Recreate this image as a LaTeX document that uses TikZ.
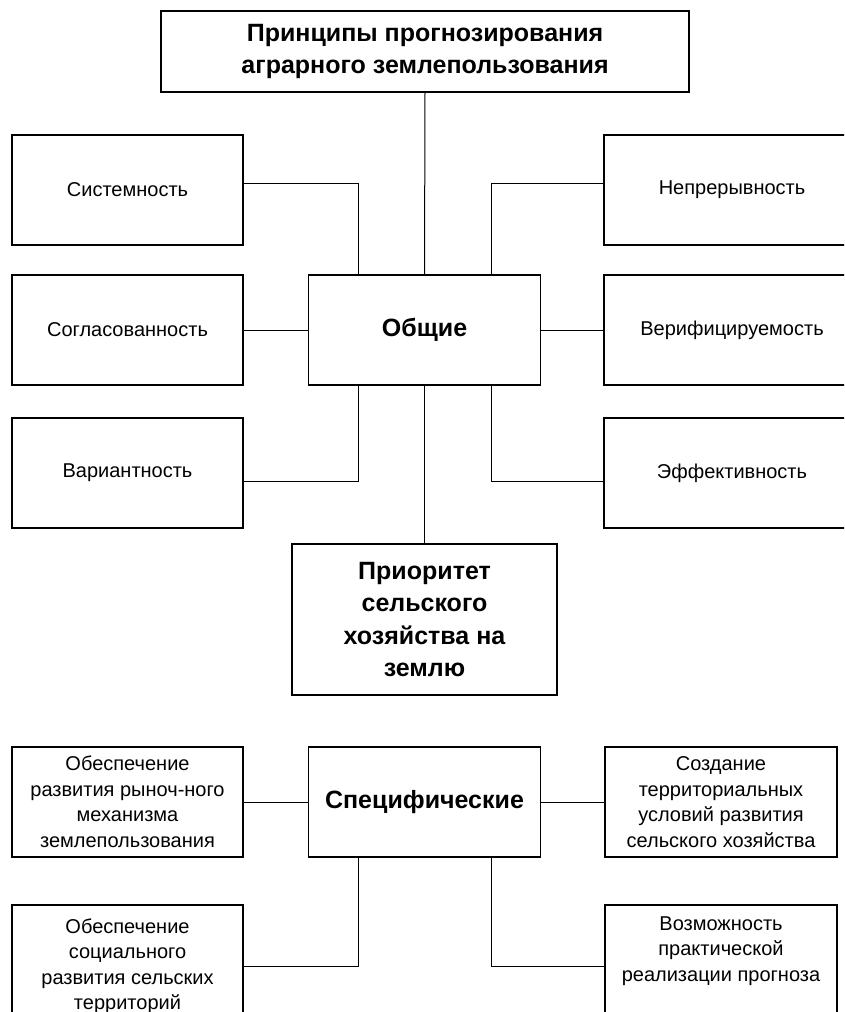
\documentclass[tikz,border=0pt]{standalone}
\usepackage{fontspec}
\setmainfont{Liberation Sans}
\tikzset{
  box/.style={draw, line width=1.2pt, inner sep=0pt, outer sep=0pt, align=center, font=\fontsize{20}{25.5}\selectfont},
  bbox/.style={box, font=\bfseries\fontsize{25}{32.5}\selectfont},
  conn/.style={line width=1pt},
}
\begin{document}
\begin{tikzpicture}[x=1pt,y=-1pt]
\useasboundingbox (0,0) rectangle (844,1012);
\clip (0,0) rectangle (844,1012);
\fill[white] (0,0) rectangle (844,1012);
% title
\node[bbox, minimum width=528pt, minimum height=81pt] (title) at (425,51.5) {Принципы прогнозирования\\аграрного землепользования};
% left column
\node[box, minimum width=231pt, minimum height=110pt] (sys) at (127.5,190) {Системность};
\node[box, minimum width=231pt, minimum height=110pt] (sogl) at (127.5,330) {Согласованность};
\node[box, minimum width=231pt, minimum height=110pt] (var) at (127.5,473) {Вариантность};
% right column
\node[box, minimum width=256pt, minimum height=110pt] (nepr) at (732,190) {Непрерывность};
\node[box, minimum width=256pt, minimum height=110pt] (ver) at (732,330) {Верифицируемость};
\node[box, minimum width=256pt, minimum height=110pt] (eff) at (732,473) {Эффективность};
% centre
\node[bbox, minimum width=232pt, minimum height=110pt] (obsh) at (424.5,330) {Общие};
\node[bbox, minimum width=265pt, minimum height=151pt] (prior) at (424.5,619.5) {Приоритет\\сельского\\хозяйства на\\землю};
\node[bbox, minimum width=232pt, minimum height=110pt] (spec) at (424.5,802) {Специфические};
% bottom boxes
\node[box, minimum width=231pt, minimum height=110pt] (b1) at (127.5,802) {Обеспечение\\развития рыноч-ного\\механизма\\землепользования};
\node[box, minimum width=232pt, minimum height=110pt] (b3) at (721,802) {Создание\\территориальных\\условий развития\\сельского хозяйства};
\node[box, minimum width=231pt, minimum height=122pt] (b2) at (127.5,966) {Обеспечение\\социального\\развития сельских\\территорий};
\node[box, minimum width=232pt, minimum height=122pt] (b4) at (721,966) {\parbox[c][99pt][t]{228pt}{\centering Возможность\\практической\\реализации прогноза}};
% connectors
\draw[conn] (title.south) -- (obsh.north);
\draw[conn] ([yshift=7pt]sys.east) -| ([xshift=-66.5pt]obsh.north);
\draw[conn] ([yshift=7pt]nepr.west) -| ([xshift=66.5pt]obsh.north);
\draw[conn] (sogl.east) -- (obsh.west);
\draw[conn] (ver.west) -- (obsh.east);
\draw[conn] ([yshift=-8pt]var.east) -| ([xshift=-66.5pt]obsh.south);
\draw[conn] ([yshift=-8pt]eff.west) -| ([xshift=66.5pt]obsh.south);
\draw[conn] (obsh.south) -- (prior.north);
\draw[conn] (b1.east) -- (spec.west);
\draw[conn] (b3.west) -- (spec.east);
\draw[conn] (b2.east) -| ([xshift=-66.5pt]spec.south);
\draw[conn] (b4.west) -| ([xshift=66.5pt]spec.south);
\end{tikzpicture}
\end{document}
